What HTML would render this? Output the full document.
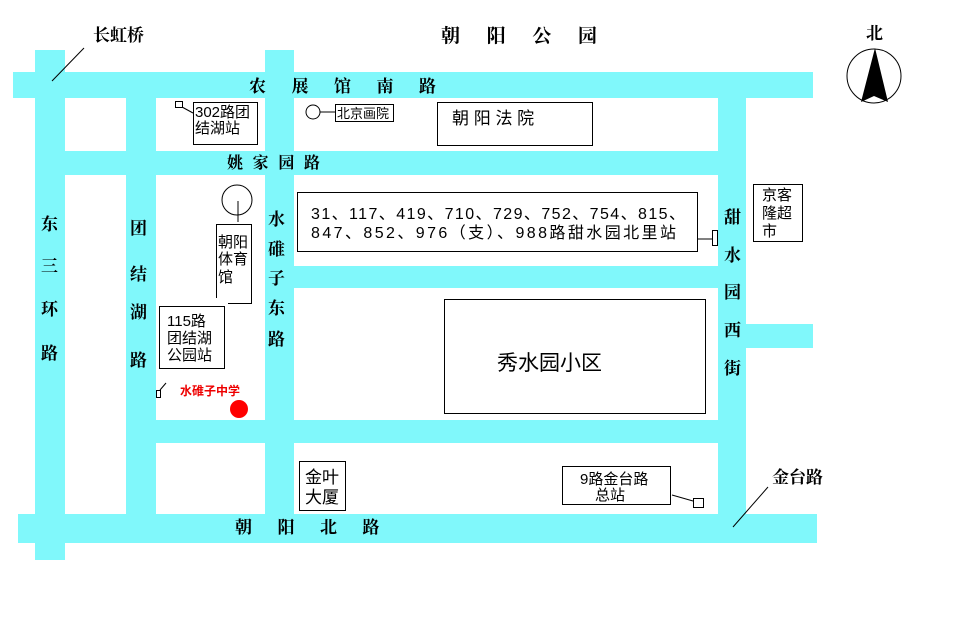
<!DOCTYPE html>
<html><head><meta charset="utf-8"><style>
html,body{margin:0;padding:0;background:#fff;}
svg{display:block;}
.r{font-family:"Liberation Serif","Noto Serif CJK SC","Noto Sans CJK SC",serif;font-weight:bold;font-size:17px;fill:#000;}
.t{font-family:"Liberation Sans","Noto Sans CJK SC",sans-serif;font-size:15px;fill:#000;}
</style></head><body>
<svg width="961" height="628" viewBox="0 0 961 628" xmlns="http://www.w3.org/2000/svg">
<rect width="961" height="628" fill="#fff"/>
<g fill="#80f8fb">
<rect x="13" y="72" width="800" height="26"/>
<rect x="35" y="50" width="30" height="510"/>
<rect x="126" y="98" width="30" height="416"/>
<rect x="265" y="50" width="29" height="464"/>
<rect x="65" y="151" width="653" height="24"/>
<rect x="718" y="98" width="28" height="417"/>
<rect x="294" y="266" width="424" height="22"/>
<rect x="156" y="420" width="562" height="23"/>
<rect x="746" y="324" width="67" height="24"/>
<rect x="18" y="514" width="799" height="29"/>
</g>
<g fill="none" stroke="#000" stroke-width="1">
<line x1="84" y1="48" x2="52" y2="81"/>
<line x1="768" y1="487" x2="733" y2="527"/>
<rect x="193.5" y="102.5" width="64" height="42"/>
<rect x="175.5" y="101.5" width="7" height="6"/>
<line x1="182" y1="107" x2="193" y2="113"/>
<circle cx="313" cy="112" r="7"/>
<line x1="320" y1="112" x2="335" y2="112"/>
<rect x="335.5" y="104.5" width="58" height="17"/>
<rect x="437.5" y="102.5" width="155" height="43"/>
<rect x="297.5" y="192.5" width="400" height="59"/>
<line x1="697" y1="239" x2="712" y2="239"/>
<rect x="712.5" y="230.5" width="5" height="15"/>
<rect x="753.5" y="184.5" width="49" height="57"/>
<circle cx="237" cy="200" r="15"/>
<line x1="238" y1="201" x2="238" y2="222"/>
<path d="M216.5 298V224.5H251.5V303.5H228"/>
<rect x="159.5" y="306.5" width="65" height="62"/>
<rect x="156.5" y="390.5" width="4" height="7"/>
<line x1="160" y1="390" x2="166" y2="383"/>
<rect x="444.5" y="299.5" width="261" height="114"/>
<rect x="299.5" y="461.5" width="46" height="49"/>
<rect x="562.5" y="466.5" width="108" height="38"/>
<line x1="672" y1="495" x2="693" y2="501"/>
<rect x="693.5" y="498.5" width="10" height="9"/>
<circle cx="874" cy="76" r="27"/>
</g>
<path d="M875 48 L861 102 L874 96 L888 102 Z" fill="#000"/>
<circle cx="239" cy="409" r="9" fill="#f00"/>
<g class="r">
<text x="93" y="41">长虹桥</text>
<text x="441" y="42" font-size="19" textLength="156" lengthAdjust="spacing">朝&#8195;阳&#8195;公&#8195;园</text>
<text x="866" y="39">北</text>
<text x="249" y="92">农&#8195;&#8194;展&#8195;&#8194;馆&#8195;&#8194;南&#8195;&#8194;路</text>
<text x="227" y="168" font-size="16" textLength="93" lengthAdjust="spacing">姚 家 园 路</text>
<text x="235" y="533">朝&#8195;&#8194;阳&#8195;&#8194;北&#8195;&#8194;路</text>
<text x="772" y="483">金台路</text>
<text x="41" y="230">东</text><text x="41" y="272">三</text><text x="41" y="315">环</text><text x="41" y="359">路</text>
<text x="130" y="234">团</text><text x="130" y="280">结</text><text x="130" y="318">湖</text><text x="130" y="366">路</text>
<text x="268" y="225">水</text><text x="268" y="255">碓</text><text x="268" y="284">子</text><text x="268" y="314">东</text><text x="268" y="345">路</text>
<text x="724" y="223">甜</text><text x="724" y="261">水</text><text x="724" y="298">园</text><text x="724" y="336">西</text><text x="724" y="374">街</text>
</g>
<g class="t">
<text x="195" y="117">302路团</text><text x="195" y="133">结湖站</text>
<text x="337" y="118" font-size="13">北京画院</text>
<text x="452" y="124" font-size="17">朝 阳 法 院</text>
<text x="311" y="219" font-size="16" textLength="374" lengthAdjust="spacing">31、117、419、710、729、752、754、815、</text>
<text x="311" y="238" font-size="16" textLength="365" lengthAdjust="spacing">847、852、976（支）、988路甜水园北里站</text>
<text x="762" y="200">京客</text><text x="762" y="218">隆超</text><text x="762" y="236">市</text>
<text x="218" y="247">朝阳</text><text x="218" y="264">体育</text><text x="218" y="282">馆</text>
<text x="167" y="326">115路</text><text x="167" y="343">团结湖</text><text x="167" y="360">公园站</text>
<text x="180" y="395" font-size="12" font-weight="bold" style="fill:#e00">水碓子中学</text>
<text x="497" y="370" font-size="21">秀水园小区</text>
<text x="305" y="483" font-size="17">金叶</text><text x="305" y="503" font-size="17">大厦</text>
<text x="580" y="484">9路金台路</text><text x="595" y="500">总站</text>
</g>
</svg>
</body></html>
